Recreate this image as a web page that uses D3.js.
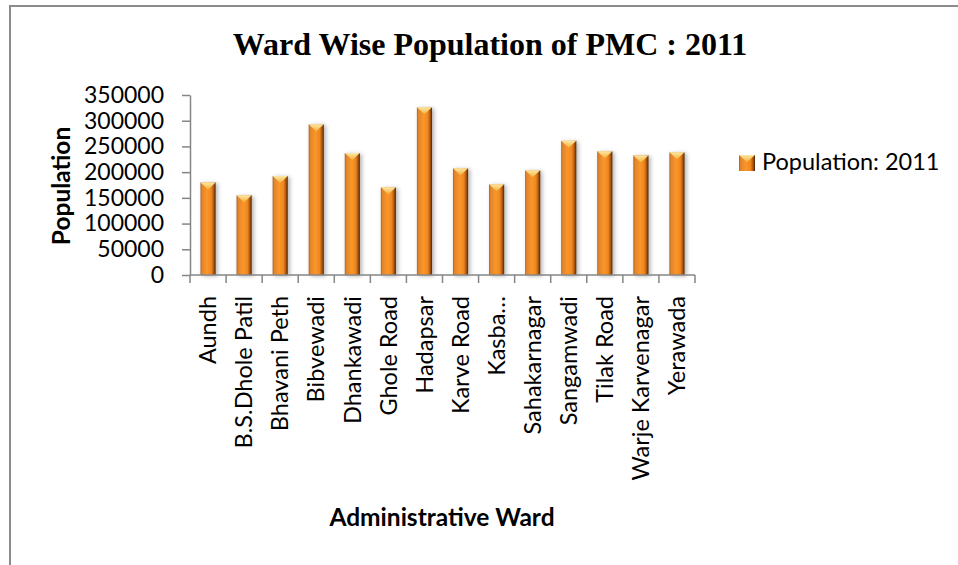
<!DOCTYPE html>
<html>
<head>
<meta charset="utf-8">
<script src="https://cdn.jsdelivr.net/npm/d3@7"></script>
<style>
  html, body { margin: 0; padding: 0; background: #fff; }
  svg { display: block; }
</style>
</head>
<body>
<svg id="chart" width="958" height="565"></svg>
<script>
// Ward-wise population, Pune Municipal Corporation, census 2011
const wards = ["Aundh", "B.S.Dhole Patil", "Bhavani Peth", "Bibvewadi", "Dhankawadi",
  "Ghole Road", "Hadapsar", "Karve Road", "Kasba…", "Sahakarnagar", "Sangamwadi",
  "Tilak Road", "Warje Karvenagar", "Yerawada"];
const population = [180000, 155000, 192500, 293000, 237000, 170500, 326000,
  207500, 176500, 203500, 261000, 240500, 232500, 238500];
const yTicks = [0, 50000, 100000, 150000, 200000, 250000, 300000, 350000];
const seriesName = "Population: 2011";

const svg = d3.select("#chart");
const font = "Lato, 'Open Sans', sans-serif";

svg.append("rect").attr("width", 958).attr("height", 565).attr("fill", "#fff");

// frame
svg.append("path")
  .attr("d", "M10,565V6H958")
  .attr("fill", "none").attr("stroke", "#8c8c8c").attr("stroke-width", 2);

const defs = svg.append("defs");
const barGrad = defs.append("linearGradient").attr("id", "barGrad")
  .attr("x1", "0%").attr("x2", "100%").attr("y1", "0%").attr("y2", "0%");
[["0%", "#9c6230"], ["10%", "#e3842c"], ["45%", "#fa962a"], ["72%", "#ef8620"],
 ["86%", "#b35a10"], ["100%", "#4e2606"]]
  .forEach(([o, c]) => barGrad.append("stop").attr("offset", o).attr("stop-color", c));
const capGrad = defs.append("linearGradient").attr("id", "capGrad")
  .attr("x1", "0%").attr("x2", "0%").attr("y1", "0%").attr("y2", "100%");
[["0%", "#fde7a4"], ["100%", "#f3b23c"]]
  .forEach(([o, c]) => capGrad.append("stop").attr("offset", o).attr("stop-color", c));
const shadow = defs.append("filter").attr("id", "shadow")
  .attr("x", "-50%").attr("y", "-10%").attr("width", "200%").attr("height", "130%");
shadow.append("feDropShadow").attr("dx", 2).attr("dy", 1).attr("stdDeviation", 2)
  .attr("flood-color", "#000").attr("flood-opacity", 0.3);

// title
svg.append("text")
  .attr("x", 490).attr("y", 55).attr("text-anchor", "middle")
  .attr("font-family", "'Liberation Serif', 'Times New Roman', serif")
  .attr("font-weight", "bold").attr("font-size", 32).attr("fill", "#000")
  .text("Ward Wise Population of PMC : 2011");

const x = d3.scaleBand().domain(wards).range([190, 695])
  .paddingInner(0.58).paddingOuter(0.29);
const y = d3.scaleLinear().domain([0, 350000]).range([275, 95]);

// y axis
const yAxis = svg.append("g").attr("transform", "translate(190,0)")
  .call(d3.axisLeft(y).tickValues(yTicks).tickSize(8).tickSizeOuter(0)
    .tickPadding(18).tickFormat(d => String(d)));
yAxis.select(".domain").attr("stroke", "#868686").attr("stroke-width", 1.5);
yAxis.selectAll(".tick line").attr("stroke", "#868686").attr("stroke-width", 1.5);
yAxis.selectAll(".tick text").attr("font-family", font).attr("font-size", 23).attr("fill", "#000");

// bars
const bars = svg.append("g");
wards.forEach((w, i) => {
  const x0 = x(w), bw = x.bandwidth(), y0 = y(population[i]), y1 = y(0);
  const g = bars.append("g");
  g.append("rect").attr("x", x0).attr("y", y0).attr("width", bw).attr("height", y1 - y0)
    .attr("fill", "url(#barGrad)").attr("filter", "url(#shadow)");
  g.append("path")
    .attr("d", `M${x0},${y0}L${x0 + bw},${y0}L${x0 + bw / 2},${y0 + 7}Z`)
    .attr("fill", "url(#capGrad)");
});

// x axis line with boundary ticks
const xAxis = svg.append("g");
const [r0, r1] = x.range();
xAxis.append("line").attr("x1", r0).attr("x2", r1).attr("y1", y(0)).attr("y2", y(0))
  .attr("stroke", "#868686").attr("stroke-width", 1.5);
d3.range(wards.length + 1).forEach(i => {
  const bx = r0 + i * x.step();
  xAxis.append("line").attr("x1", bx).attr("x2", bx).attr("y1", y(0)).attr("y2", y(0) + 8)
    .attr("stroke", "#868686").attr("stroke-width", 1.5);
});
xAxis.selectAll("text.cat").data(wards).join("text").attr("class", "cat")
  .attr("transform", d => `translate(${x(d) + x.bandwidth() / 2},296) rotate(-90)`)
  .attr("dy", "0.35em").attr("text-anchor", "end")
  .attr("font-family", font).attr("font-size", 23.5).attr("fill", "#000")
  .text(d => d);

// axis titles
svg.append("text")
  .attr("transform", "translate(61,186) rotate(-90)")
  .attr("dy", "0.35em").attr("text-anchor", "middle")
  .attr("font-family", font).attr("font-weight", "bold").attr("font-size", 24.5)
  .text("Population");
svg.append("text")
  .attr("x", 442).attr("y", 526).attr("text-anchor", "middle")
  .attr("font-family", font).attr("font-weight", "bold").attr("font-size", 24.5)
  .text("Administrative Ward");

// legend
const lg = svg.append("g").attr("transform", "translate(739,155)");
lg.append("rect").attr("width", 16).attr("height", 16).attr("fill", "url(#barGrad)");
lg.append("path").attr("d", "M0,0L16,0L8,7Z").attr("fill", "url(#capGrad)");
lg.append("text").attr("x", 23).attr("y", 15)
  .attr("font-family", font).attr("font-size", 23.5).attr("fill", "#000")
  .text(seriesName);
</script>
</body>
</html>
